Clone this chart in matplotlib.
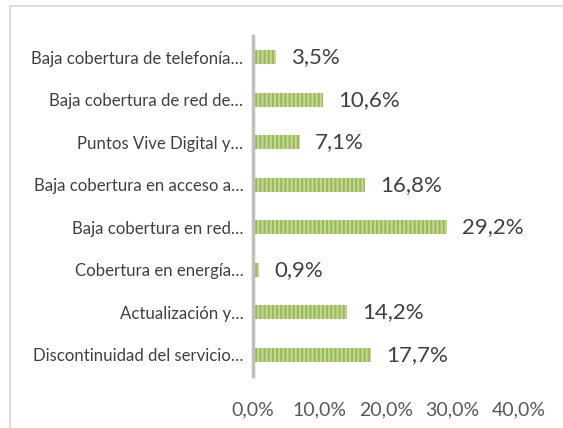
import matplotlib.pyplot as plt
from matplotlib.patches import Rectangle

plt.rcParams['font.family'] = ['Lato', 'DejaVu Sans']
plt.rcParams['hatch.linewidth'] = 1.6

categorias = ['Baja cobertura de telefonía…',
              'Baja cobertura de red de…',
              'Puntos Vive Digital y…',
              'Baja cobertura en acceso a…',
              'Baja cobertura en red…',
              'Cobertura en energía…',
              'Actualización y…',
              'Discontinuidad del servicio…']
valores = [0.035, 0.106, 0.071, 0.168, 0.292, 0.009, 0.142, 0.177]
etiquetas = ['3,5%', '10,6%', '7,1%', '16,8%', '29,2%', '0,9%', '14,2%', '17,7%']
ticks = [0.0, 0.1, 0.2, 0.3, 0.4]
tick_labels = ['0,0%', '10,0%', '20,0%', '30,0%', '40,0%']

fig = plt.figure(figsize=(5.63, 4.28), dpi=100)
# marco gris del grafico
fig.patches.append(Rectangle((10/563, -0.05), 1.0, 1 - 6/428 + 0.05, transform=fig.transFigure,
                             fill=False, edgecolor='#d9d9d9', linewidth=1.2))
ax = fig.add_axes([253/563, 1 - 376/428, (519 - 253)/563, (376 - 36)/428])

pos = list(range(len(categorias)))
ax.barh(pos, valores, height=0.33, color='#c6da98', hatch='||||',
        edgecolor='#9bbb59', linewidth=0)
ax.set_ylim(len(categorias) - 0.5, -0.5)
ax.set_xlim(0, 0.4)
ax.set_yticks(pos)
ax.set_yticklabels(categorias, fontsize=12.1, color='#404040')
ax.set_xticks(ticks)
ax.set_xticklabels(tick_labels, fontsize=14, color='#595959')
ax.tick_params(axis='both', length=0)
ax.tick_params(axis='y', pad=7)
ax.tick_params(axis='x', pad=18)
for s in ['top', 'right', 'bottom']:
    ax.spines[s].set_visible(False)
ax.spines['left'].set_color('#bfbfbf')
ax.spines['left'].set_linewidth(2.5)

for p, v, t in zip(pos, valores, etiquetas):
    ax.annotate(t, (v, p), xytext=(15, 0), textcoords='offset pixels',
                va='center', ha='left', fontsize=16, color='#404040')

fig.savefig('out.png', dpi=100)
